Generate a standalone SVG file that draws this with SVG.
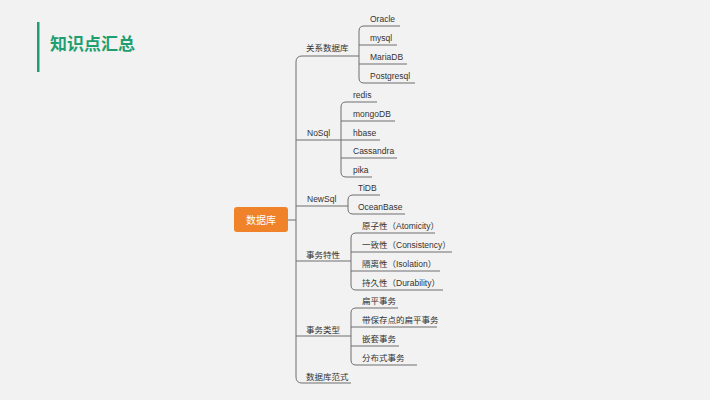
<svg xmlns="http://www.w3.org/2000/svg" width="710" height="400" viewBox="0 0 710 400">
<style>
.ln{fill:none;stroke:#6e6e6e;stroke-width:1}
.t{font-family:"Liberation Sans","Noto Sans CJK SC",sans-serif;font-size:8.5px;fill:#333}
.title{font-family:"Noto Sans CJK SC","Liberation Sans",sans-serif;font-size:17px;font-weight:bold;fill:#1f9f6f}
.root{font-family:"Noto Sans CJK SC","Liberation Sans",sans-serif;font-size:10px;fill:#fff}
</style>
<rect width="710" height="400" fill="#f2f2f2"/>
<g id="title">
<rect x="37" y="22" width="2.5" height="50" fill="#1f9f6f"/>
<text class="title" x="50" y="50">知识点汇总</text>
</g>
<g id="connectors">
<path class="ln" d="M287 220H296"/>
<path class="ln" d="M359 56H302Q296 56 296 62V377Q296 383 302 383H351"/>
<path class="ln" d="M296 140H341M296 206H348M296 261H351M296 336H351"/>
<!-- 关系数据库 -->
<path class="ln" d="M400 26H364Q359 26 359 31V78Q359 83 364 83H415M359 45H397M359 64H407"/>
<!-- NoSql -->
<path class="ln" d="M377 102H346Q341 102 341 107V172Q341 177 346 177H372M341 121H395M341 140H380M341 158H397"/>
<!-- NewSql -->
<path class="ln" d="M380 195H353Q348 195 348 200V209Q348 214 353 214H405"/>
<!-- 事务特性 -->
<path class="ln" d="M435 233H356Q351 233 351 238V285Q351 290 356 290H443M351 252H452M351 271H440"/>
<!-- 事务类型 -->
<path class="ln" d="M398 308H356Q351 308 351 313V360Q351 365 356 365H417M351 327H437M351 346H399"/>
</g>
<g id="root">
<rect x="234" y="207" width="54" height="25" rx="3" fill="#f08229"/>
<text class="root" x="261" y="223.5" text-anchor="middle">数据库</text>
</g>
<g id="b1"><text class="t" x="306" y="51">关系数据库</text></g>
<g id="l1"><text class="t" x="370" y="21.5">Oracle</text></g>
<g id="l2"><text class="t" x="370" y="40.5">mysql</text></g>
<g id="l3"><text class="t" x="370" y="59.5">MariaDB</text></g>
<g id="l4"><text class="t" x="370" y="78.5">Postgresql</text></g>
<g id="b2"><text class="t" x="307" y="135.5">NoSql</text></g>
<g id="l5"><text class="t" x="353" y="97.5">redis</text></g>
<g id="l6"><text class="t" x="353" y="116.5">mongoDB</text></g>
<g id="l7"><text class="t" x="353" y="135.5">hbase</text></g>
<g id="l8"><text class="t" x="353" y="153.5">Cassandra</text></g>
<g id="l9"><text class="t" x="353" y="172.5">pika</text></g>
<g id="b3"><text class="t" x="307" y="201.5">NewSql</text></g>
<g id="l10"><text class="t" x="358" y="190.5">TiDB</text></g>
<g id="l11"><text class="t" x="358" y="209.5">OceanBase</text></g>
<g id="b4"><text class="t" x="306" y="258">事务特性</text></g>
<g id="l12"><text class="t" x="362" y="228.5">原子性（Atomicity）</text></g>
<g id="l13"><text class="t" x="362" y="247.5">一致性（Consistency）</text></g>
<g id="l14"><text class="t" x="362" y="266.5">隔离性（Isolation）</text></g>
<g id="l15"><text class="t" x="362" y="285.5">持久性（Durability）</text></g>
<g id="b5"><text class="t" x="306" y="333">事务类型</text></g>
<g id="l16"><text class="t" x="362" y="303.5">扁平事务</text></g>
<g id="l17"><text class="t" x="362" y="322.5">带保存点的扁平事务</text></g>
<g id="l18"><text class="t" x="362" y="341.5">嵌套事务</text></g>
<g id="l19"><text class="t" x="362" y="360.5">分布式事务</text></g>
<g id="b6"><text class="t" x="306" y="380">数据库范式</text></g>
</svg>
